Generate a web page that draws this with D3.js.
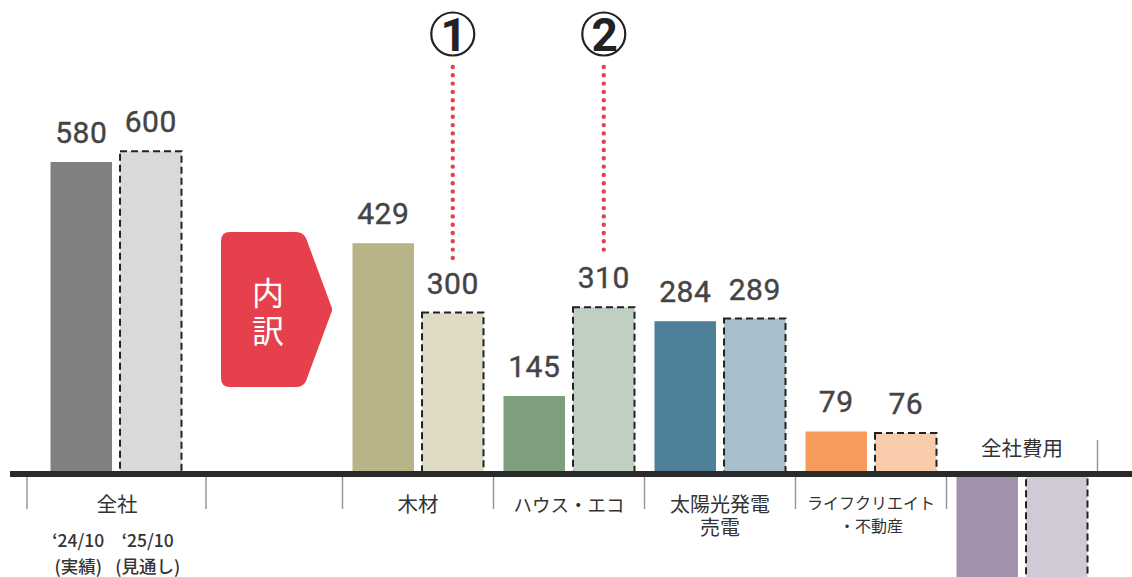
<!DOCTYPE html>
<html lang="ja">
<head>
<meta charset="UTF-8">
<title>セグメント別</title>
<script src="https://d3js.org/d3.v7.min.js"></script>
<style>
  body, html { margin: 0; background: #fff; }
  svg { display: block; }
  .val { font-family: Roboto, sans-serif; font-weight: 400; font-size: 30px; fill: #444; stroke: #444; stroke-width: 0.4px; text-anchor: middle; letter-spacing: 0.5px; }
  .cat { font-family: "Noto Sans CJK JP", sans-serif; font-size: 20px; fill: #333; text-anchor: middle; }
  .per { font-family: "Noto Sans CJK JP", sans-serif; font-size: 17.5px; fill: #333; text-anchor: middle; font-weight: 500; }
</style>
</head>
<body>
<svg width="1132" height="577"></svg>
<script>
// data
const groups = ["全社", "内訳", "木材", "ハウス・エコ", "太陽光発電売電", "ライフクリエイト・不動産", "全社費用"];
const groupLines = [["全社"], [], ["木材"], ["ハウス・エコ"], ["太陽光発電", "売電"], ["ライフクリエイト", "・不動産"], ["全社費用"]];
const actual2410 = [580, null, 429, 145, 284, 79, -250];
const forecast2510 = [600, null, 300, 310, 289, 76, -255];
const periods = ["‘24/10", "‘25/10"];
const periodNotes = ["(実績)", "(見通し)"];
const callouts = [["1", "木材"], ["2", "ハウス・エコ"]];

const actualColors = ["#808080", null, "#b9b488", "#7f9e7e", "#4e8099", "#f59b5c", "#a491ac"];
const forecastColors = ["#d9d9d9", null, "#dedac3", "#bfd0c2", "#a8bfcb", "#f8cbab", "#d0c9d6"];
const labelSizes = [20.5, 0, 20.5, 18.5, 20, 16, 20.5];
const red = "#e5404b";

const svg = d3.select("svg");

const x = d3.scaleBand().domain(groups).range([40.5, 1097.5]).padding(0);
const sub = d3.scaleBand().domain(["a", "f"]).range([10, 141]).paddingInner(8 / 69);
const y = d3.scaleLinear().domain([0, 600]).range([474, 151.2]);

const rows = [];
groups.forEach((g, i) => {
  if (actual2410[i] !== null) rows.push({g, k: "a", v: actual2410[i], c: actualColors[i]});
  if (forecast2510[i] !== null) rows.push({g, k: "f", v: forecast2510[i], c: forecastColors[i]});
});

// bars
svg.selectAll("rect.bar").data(rows).join("rect")
  .attr("class", "bar")
  .attr("x", d => x(d.g) + sub(d.k))
  .attr("width", sub.bandwidth())
  .attr("y", d => Math.min(y(d.v), y(0)))
  .attr("height", d => Math.abs(y(d.v) - y(0)))
  .attr("fill", d => d.c)
  .attr("stroke", d => d.k === "f" ? "#222" : "none")
  .attr("stroke-width", 2)
  .attr("stroke-dasharray", "7,4");

// value labels (positive only, negatives fall off the picture)
svg.selectAll("text.val").data(rows.filter(d => d.v > 0)).join("text")
  .attr("class", "val")
  .attr("x", d => x(d.g) + sub(d.k) + sub.bandwidth() / 2)
  .attr("y", d => y(d.v) - 19)
  .text(d => d.v);

// baseline
svg.append("line")
  .attr("x1", 10).attr("x2", 1132)
  .attr("y1", y(0)).attr("y2", y(0))
  .attr("stroke", "#2a2a2a").attr("stroke-width", 6);

// separators
const tickX = [x("全社") + x.bandwidth() / 2 - 89, x("全社") + x.bandwidth() / 2 + 90];
["木材", "ハウス・エコ", "太陽光発電売電", "ライフクリエイト・不動産", "全社費用"].forEach(g => tickX.push(x(g)));
svg.selectAll("line.tick").data(tickX).join("line")
  .attr("class", "tick")
  .attr("x1", d => d).attr("x2", d => d)
  .attr("y1", y(0) + 3).attr("y2", y(0) + 35)
  .attr("stroke", "#999").attr("stroke-width", 1.5);
svg.append("line")
  .attr("x1", x("全社費用") + x.bandwidth()).attr("x2", x("全社費用") + x.bandwidth())
  .attr("y1", y(0) - 34).attr("y2", y(0) - 3)
  .attr("stroke", "#999").attr("stroke-width", 1.5);

// category labels
groups.forEach((g, i) => {
  const lines = groupLines[i];
  if (!lines.length) return;
  const cx = x(g) + x.bandwidth() / 2 + (i === 0 ? 1 : 0);
  const fs = labelSizes[i];
  const below = actual2410[i] > 0;
  lines.forEach((l, j) => {
    svg.append("text").attr("class", "cat")
      .style("font-size", fs + "px")
      .attr("x", cx)
      .attr("y", below ? (fs < 17 ? 509 : 505 + fs * 0.36) + j * 23 : y(0) - 18)
      .text(l);
  });
});

// period labels under 全社
["a", "f"].forEach((k, i) => {
  const cx = x("全社") + sub(k) + sub.bandwidth() / 2 - 3;
  svg.append("text").attr("class", "per").attr("x", cx).attr("y", 547).text(periods[i]);
  svg.append("text").attr("class", "per").attr("x", cx).attr("y", 573).text(periodNotes[i]);
});

// 内訳 arrow
const ax = x("内訳") + x.bandwidth() / 2;
const x0 = ax - 46, x1 = ax + 33, x2 = ax + 66, y0 = 232, y1 = 387, ym = (y0 + y1) / 2, r = 9;
const p = d3.path();
p.moveTo(x0 + r, y0);
p.lineTo(x1 - 4, y0);
p.quadraticCurveTo(x1 + 3, y0, x1 + 6, y0 + 6);
p.lineTo(x2 - 2, ym - 4);
p.quadraticCurveTo(x2, ym, x2 - 2, ym + 4);
p.lineTo(x1 + 6, y1 - 6);
p.quadraticCurveTo(x1 + 3, y1, x1 - 4, y1);
p.lineTo(x0 + r, y1);
p.quadraticCurveTo(x0, y1, x0, y1 - r);
p.lineTo(x0, y0 + r);
p.quadraticCurveTo(x0, y0, x0 + r, y0);
p.closePath();
svg.append("path").attr("d", p.toString()).attr("fill", red);
["内", "訳"].forEach((ch, i) => {
  svg.append("text")
    .attr("x", ax + 1).attr("y", 305 + i * 38)
    .attr("text-anchor", "middle")
    .style("font-family", "'Noto Sans CJK JP', sans-serif")
    .style("font-size", "32px").style("font-weight", 400)
    .attr("fill", "#fff").text(ch);
});

// callouts
callouts.forEach(([n, g]) => {
  const i = groups.indexOf(g);
  const cx = x(g) + sub("f") + sub.bandwidth() / 2;
  svg.append("circle").attr("cx", cx).attr("cy", 34).attr("r", 21.5)
    .attr("fill", "none").attr("stroke", "#222").attr("stroke-width", 2.2);
  svg.append("text").attr("x", cx + 1).attr("y", 51)
    .attr("text-anchor", "middle")
    .style("font-family", "Roboto, sans-serif").style("font-weight", 700).style("font-size", "46px")
    .attr("fill", "#222").text(n);
  svg.append("line")
    .attr("x1", cx).attr("x2", cx)
    .attr("y1", 67).attr("y2", y(forecast2510[i]) - 54)
    .attr("stroke", red).attr("stroke-width", 4.4)
    .attr("stroke-linecap", "round").attr("stroke-dasharray", "0,8.3");
});
</script>
</body>
</html>
